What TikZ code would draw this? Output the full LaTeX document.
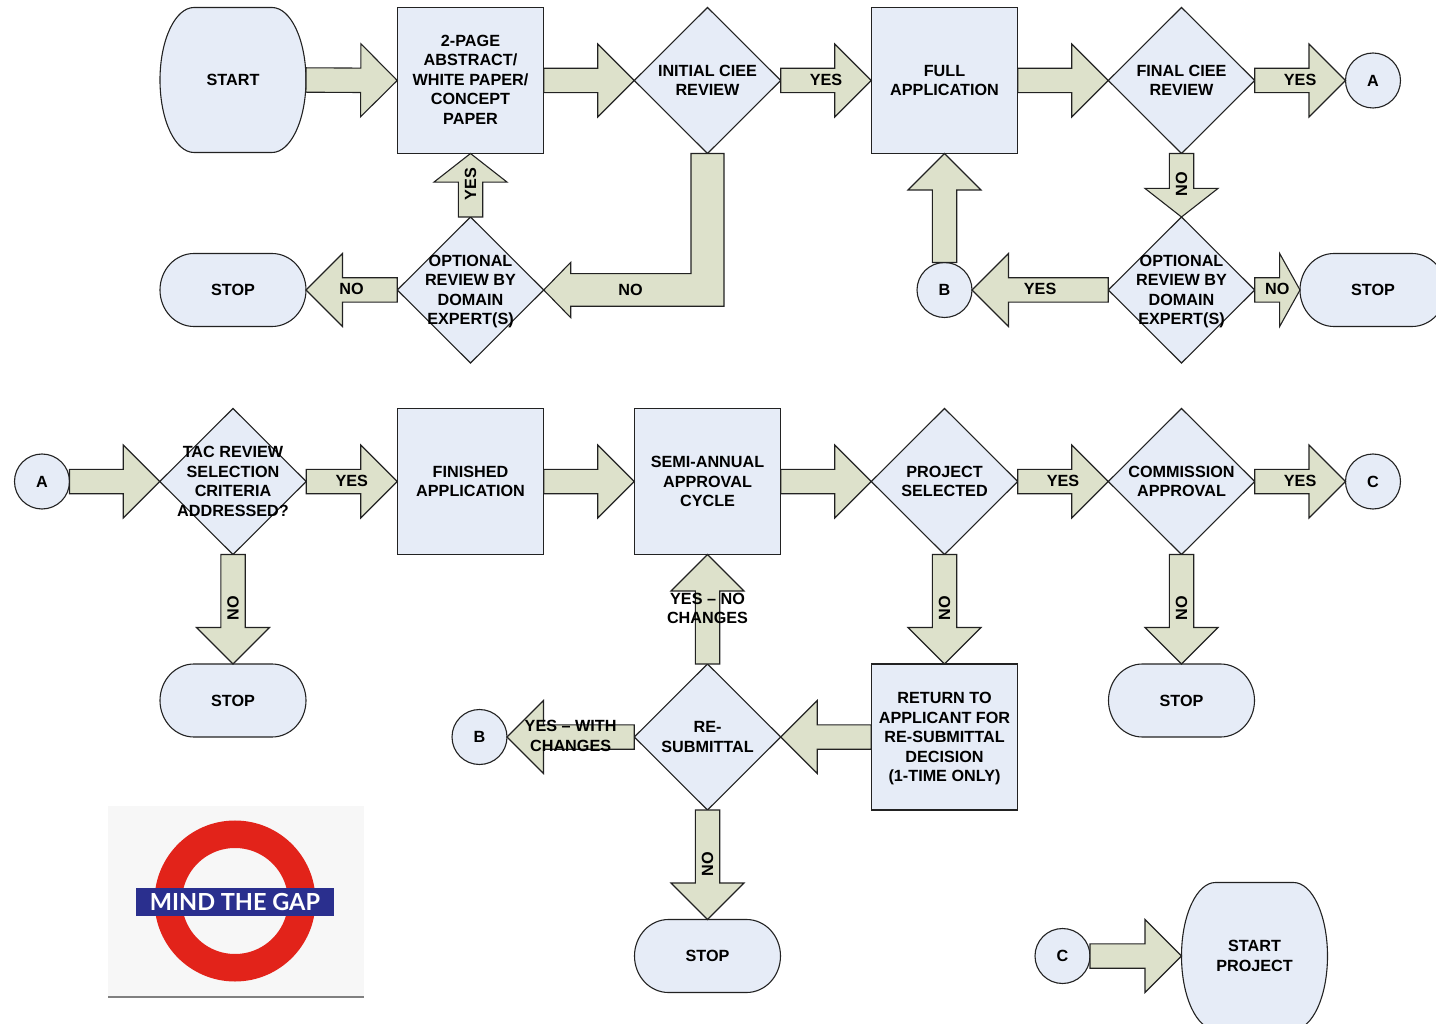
\documentclass[tikz,border=0pt]{standalone}
\usepackage{fontspec}
\setmainfont{Liberation Sans}
\newfontfamily\signfont{Lato}
\usetikzlibrary{calc,shapes.geometric}

\definecolor{boxblue}{HTML}{E6ECF7}
\definecolor{arrowgreen}{HTML}{DDE1CB}
\definecolor{linegray}{HTML}{222222}
\definecolor{ringred}{HTML}{E2231A}
\definecolor{barblue}{HTML}{2A2F8E}

\tikzset{
  flowtext/.style={font=\fontsize{16.2}{19.5}\selectfont\bfseries,align=center,inner sep=0pt,outer sep=0pt},
  arrowlabel/.style={flowtext,yshift=.9pt},
  procbox/.style={flowtext,rectangle,draw=linegray,fill=boxblue,line width=1.1pt,minimum width=146.5,minimum height=146},
  decision/.style={diamond,aspect=1,draw=linegray,fill=boxblue,line width=1.1pt,inner sep=0pt,outer sep=0pt,minimum width=146.5,minimum height=146},
  connector/.style={flowtext,circle,draw=linegray,fill=boxblue,line width=1.1pt,minimum size=55},
  arrowpart/.style={draw=linegray,fill=arrowgreen,line width=1.1pt,line join=miter},
  blockarrow/.style={arrowpart,to path={
    let \p1=($(\tikztotarget)-(\tikztostart)$),\n1={veclen(\x1,\y1)},\n2={min(36.5pt,0.45*\n1)},
        \p2=($(\tikztotarget)!\n2!(\tikztostart)$),\p3=($(\tikztostart)!.5!(\tikztotarget)$) in
    ($(\tikztostart)!12.2pt!90:(\tikztotarget)$) -- ($(\p2)!12.2pt!90:(\tikztotarget)$)
    -- ($(\p2)!36.5pt!90:(\tikztotarget)$) -- (\tikztotarget)
    -- ($(\p2)!36.5pt!-90:(\tikztotarget)$) -- ($(\p2)!12.2pt!-90:(\tikztotarget)$)
    -- ($(\tikztostart)!12.2pt!-90:(\tikztotarget)$) -- cycle
    (\p3) -- (\p3) \tikztonodes}},
}

% name, x, y, half height, text
\newcommand{\terminal}[5]{
  \draw[draw=linegray,fill=boxblue,line width=1.1pt] (#2-39,#3-#4) -- (#2+39,#3-#4)
    arc[start angle=-90,end angle=90,x radius=34,y radius=#4]
    -- (#2-39,#3+#4) arc[start angle=90,end angle=270,x radius=34,y radius=#4] -- cycle;
  \node[flowtext,rectangle,minimum width=146,minimum height=2*#4] (#1) at (#2,#3) {#5};
}

\begin{document}
\begin{tikzpicture}[x=1pt,y=-1pt]
\useasboundingbox (0,0) rectangle (1436,1024);

% top row
\terminal{start}{233}{80}{72.5}{START}
\node[procbox,label={[flowtext,name=abstracttext,yshift=1pt]center:{2-PAGE\\ABSTRACT/\\WHITE PAPER/\\CONCEPT\\PAPER}}] (abstract) at (470.5,80.5) {};
\node[decision,label={[flowtext,name=initialtext]center:{INITIAL CIEE\\REVIEW}}] (initial) at (707.5,80.5) {};
\node[procbox] (fullapp) at (944.5,80.5) {FULL\\APPLICATION};
\node[decision,label={[flowtext,name=finaltext]center:{FINAL CIEE\\REVIEW}}] (final) at (1181.5,80.5) {};
\node[connector] (circa) at (1373,80.5) {A};

\terminal{stopa}{233}{290}{36.5}{STOP}
\node[decision,label={[flowtext,name=opttexta,yshift=-1.5pt]center:{OPTIONAL\\REVIEW BY\\DOMAIN\\EXPERT(S)}}] (opta) at (470.5,290) {};
\node[connector] (circb) at (944.5,290) {B};
\node[decision,label={[flowtext,name=opttextb,yshift=-1.5pt]center:{OPTIONAL\\REVIEW BY\\DOMAIN\\EXPERT(S)}}] (optb) at (1181.5,290) {};
\terminal{stopb}{1373}{290}{36.5}{STOP}

% second part
\node[connector] (circa2) at (42,481.5) {A};
\node[decision,label={[flowtext,name=tactext]center:{TAC REVIEW\\SELECTION\\CRITERIA\\ADDRESSED?}}] (tac) at (233,481.5) {};
\node[procbox] (finished) at (470.5,481.5) {FINISHED\\APPLICATION};
\node[procbox] (semi) at (707.5,481.5) {SEMI-ANNUAL\\APPROVAL\\CYCLE};
\node[decision,label={[flowtext,name=selecttext]center:{PROJECT\\SELECTED}}] (select) at (944.5,481.5) {};
\node[decision,label={[flowtext,name=commtext]center:{COMMISSION\\APPROVAL}}] (comm) at (1181.5,481.5) {};
\node[connector] (circc) at (1373,481.5) {C};

\terminal{stopc}{233}{700.5}{36.5}{STOP}
\terminal{stopd}{1181.5}{700.5}{36.5}{STOP}
\node[procbox,label={[flowtext,name=returntext,yshift=-1.8pt]center:{RETURN TO\\APPLICANT FOR\\RE-SUBMITTAL\\DECISION\\(1-TIME ONLY)}}] (return) at (944.5,737) {};
\node[decision,label={[flowtext,name=resubtext]center:{RE-\\SUBMITTAL}}] (resub) at (707.5,737) {};
\node[connector] (circb2) at (479.5,737) {B};
\terminal{stope}{707.5}{956}{36.5}{STOP}

\node[connector] (circc2) at (1062.5,956) {C};
\terminal{startproj}{1254.5}{956}{73.5}{START\\PROJECT}

% arrows
\draw[blockarrow] (start.east) to (abstract.west);
\draw[blockarrow] (abstract.east) to (initial.west);
\draw[blockarrow] (initial.east) to node[arrowlabel] (lblyesa) {YES} (fullapp.west);
\draw[blockarrow] (fullapp.east) to (final.west);
\draw[blockarrow] (final.east) to node[arrowlabel] (lblyesb) {YES} (circa.west);
\draw[blockarrow] (opta.north) to node[arrowlabel,rotate=90] (lblyesc) {YES} (abstract.south);
\draw[blockarrow] (opta.west) to node[arrowlabel] (lblnoa) {NO} (stopa.east);
\draw[blockarrow] (final.south) to node[arrowlabel,rotate=90] (lblnob) {NO} (optb.north);
\draw[blockarrow] (optb.east) to node[arrowlabel] (lblnoc) {NO} (stopb.west);
\draw[blockarrow] (optb.west) to node[arrowlabel] (lblyesd) {YES} (circb.east);
\draw[blockarrow] (circb.north) to (fullapp.south);

\draw[arrowpart] (opta.east) -- ++(27,-27.7) -- ++(0,11.4) -| ($(initial.south)+(-16.5,0)$)
  -- ++(33,0) |- ($(opta.east)+(27,16.3)$) -- ++(0,11.4) -- cycle;
\node[flowtext] (lblnod) at (630.5,289.5) {NO};

\draw[blockarrow] (circa2.east) to (tac.west);
\draw[blockarrow] (tac.east) to node[arrowlabel] (lblyese) {YES} (finished.west);
\draw[blockarrow] (finished.east) to (semi.west);
\draw[blockarrow] (semi.east) to (select.west);
\draw[blockarrow] (select.east) to node[arrowlabel] (lblyesf) {YES} (comm.west);
\draw[blockarrow] (comm.east) to node[arrowlabel] (lblyesg) {YES} (circc.west);
\draw[blockarrow] (tac.south) to node[arrowlabel,rotate=90] (lblnoe) {NO} (stopc.north);
\draw[blockarrow] (select.south) to node[arrowlabel,rotate=90] (lblnof) {NO} (return.north);
\draw[blockarrow] (comm.south) to node[arrowlabel,rotate=90] (lblnog) {NO} (stopd.north);
\draw[blockarrow] (return.west) to (resub.east);
\draw[blockarrow] (resub.north) to node[arrowlabel] (lblyesh) {YES -- NO\\CHANGES} (semi.south);
\draw[blockarrow] (resub.west) to node[arrowlabel] (lblyesi) {YES -- WITH\\CHANGES} (circb2.east);
\draw[blockarrow] (resub.south) to node[arrowlabel,rotate=90] (lblnoh) {NO} (stope.north);
\draw[blockarrow] (circc2.east) to (startproj.west);

% sign
\fill[gray!6] (108,806) rectangle (364,997);
\draw[gray,line width=1.2pt] (108,997) -- (364,997);
\draw[ringred,line width=27.5] (235,901) circle[radius=66.75];
\node[fill=barblue,minimum width=198.5,minimum height=28,inner sep=0pt,text=white,font=\signfont\fontsize{23.5}{25}\selectfont\bfseries] (signbar) at (235,902) {MIND THE GAP};
\end{tikzpicture}
\end{document}
